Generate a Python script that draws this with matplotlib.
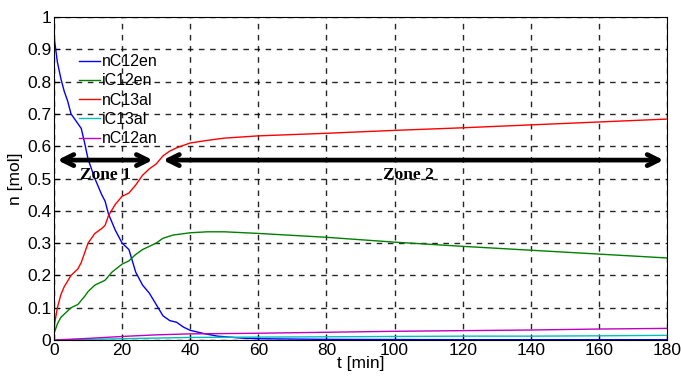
import numpy as np
import matplotlib
matplotlib.use('Agg')
import matplotlib.pyplot as plt

plt.rcParams['font.family'] = ['Liberation Sans', 'DejaVu Sans']

# time axis [min] for the fast early part and the slow tail
t_blue = [0, 1, 2, 3, 4, 5, 7, 8, 9, 10, 12, 14, 15, 16, 18, 20, 22, 24, 26, 28, 30,
          32, 34, 36, 38, 40, 44, 48, 55, 60, 80, 120, 180]
nC12en = [0.94, 0.86, 0.81, 0.77, 0.74, 0.70, 0.67, 0.655, 0.61, 0.56, 0.50, 0.45, 0.43,
          0.39, 0.34, 0.30, 0.28, 0.21, 0.17, 0.145, 0.11, 0.075, 0.06, 0.055, 0.04, 0.03,
          0.02, 0.012, 0.006, 0.004, 0.002, 0.001, 0.001]

t_red = [0, 1, 2, 3, 5, 7, 8, 10, 12, 14, 15, 16, 18, 20, 22, 24, 26, 28, 30, 32, 34,
         36, 40, 45, 50, 60, 80, 100, 120, 140, 160, 180]
nC13al = [0.04, 0.10, 0.14, 0.165, 0.20, 0.22, 0.24, 0.30, 0.33, 0.345, 0.355, 0.385,
          0.42, 0.445, 0.455, 0.48, 0.51, 0.53, 0.545, 0.57, 0.585, 0.595, 0.61, 0.618,
          0.625, 0.632, 0.64, 0.649, 0.657, 0.666, 0.675, 0.684]

t_green = [0, 1, 2, 3, 5, 7, 9, 10, 12, 15, 17, 20, 22, 24, 26, 28, 30, 32, 35, 40, 45,
           50, 60, 80, 100, 120, 140, 160, 180]
iC12en = [0.02, 0.05, 0.07, 0.08, 0.10, 0.11, 0.135, 0.15, 0.17, 0.185, 0.21, 0.235,
          0.245, 0.265, 0.28, 0.29, 0.30, 0.315, 0.325, 0.332, 0.335, 0.335, 0.33, 0.318,
          0.303, 0.29, 0.278, 0.266, 0.254]

t_small = [0, 10, 20, 30, 40, 60, 80, 100, 120, 140, 160, 180]
iC13al = [0.0, 0.002, 0.004, 0.006, 0.008, 0.009, 0.010, 0.011, 0.012, 0.012, 0.013, 0.0145]
nC12an = [0.0, 0.005, 0.011, 0.016, 0.019, 0.021, 0.024, 0.027, 0.029, 0.031, 0.034, 0.036]

ytick_labels = ['0', '0.1', '0.2', '0.3', '0.4', '0.5', '0.6', '0.7', '0.8', '0.9', '1']

fig = plt.figure(figsize=(6.81, 3.76), dpi=100)
ax = fig.add_axes([0.0793, 0.0957, 0.9001, 0.8591])

ax.plot(t_blue, nC12en, color='#0000ff', lw=1, label='nC12en')
ax.plot(t_green, iC12en, color='#008000', lw=1, label='iC12en')
ax.plot(t_red, nC13al, color='#ff0000', lw=1, label='nC13al')
ax.plot(t_small, iC13al, color='#00bfbf', lw=1, label='iC13al')
ax.plot(t_small, nC12an, color='#bf00bf', lw=1, label='nC12an')

ax.set_xlim(0, 180)
ax.set_ylim(0, 1)
ax.set_xticks(np.arange(0, 181, 20))
ax.set_yticks(np.linspace(0, 1, 11))
ax.set_yticklabels(ytick_labels)
ax.tick_params(direction='in', labelsize=12.5, length=4, color='k', pad=2)
ax.grid(True, color='k', linestyle=(0, (4, 4)), linewidth=1.0, alpha=0.85)
for s in ax.spines.values():
    s.set_linewidth(0.8)

ax.set_xlabel('t [min]', fontsize=12.5, labelpad=-1)
ax.set_ylabel('n [mol]', fontsize=12.5, labelpad=3)

leg = ax.legend(loc='upper left', bbox_to_anchor=(0.04, 0.885), frameon=False,
                fontsize=11.5, handlelength=1.35, handletextpad=0.1, labelspacing=0.27,
                borderaxespad=0, borderpad=0)

# zone arrows
arrow_kw = dict(arrowstyle='<->', lw=3.4, color='k', mutation_scale=20,
                shrinkA=0, shrinkB=0)
ax.annotate('', xy=(1, 0.557), xytext=(29, 0.557), arrowprops=arrow_kw)
ax.annotate('', xy=(32, 0.557), xytext=(179, 0.557), arrowprops=arrow_kw)
ax.text(15, 0.51, 'Zone 1', family=['Liberation Serif'], weight='bold', fontsize=12.5,
        ha='center', va='center')
ax.text(104, 0.51, 'Zone 2', family=['Liberation Serif'], weight='bold', fontsize=12.5,
        ha='center', va='center')

fig.savefig('out.png', dpi=100)
